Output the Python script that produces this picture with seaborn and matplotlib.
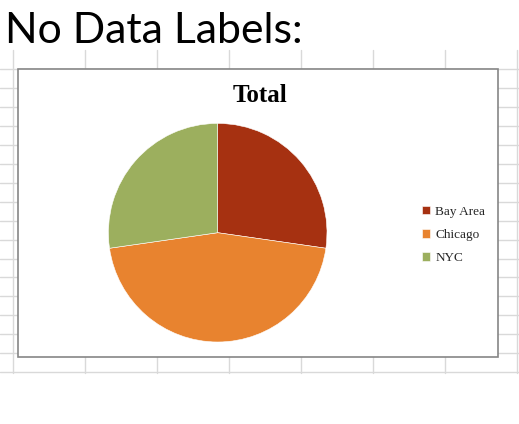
import matplotlib
matplotlib.use("Agg")
import matplotlib.pyplot as plt
from matplotlib.patches import Rectangle
import seaborn as sns

# data
cities = ["Bay Area", "Chicago", "NYC"]
totals = [3, 5, 3]
colors = ["#a63111", "#e8832f", "#9caf5e"]

heading = "No Data Labels:"
chart_title = "Total"

sns.set_theme(style="white")
plt.rcParams["font.family"] = ["Liberation Serif", "DejaVu Serif"]

W, H = 519, 424
fig = plt.figure(figsize=(W / 100, H / 100), dpi=100)
fig.patch.set_facecolor("white")

# spreadsheet grid behind the chart (pixel coords)
bg = fig.add_axes([0, 0, 1, 1])
bg.set_xlim(0, W)
bg.set_ylim(H, 0)
bg.axis("off")
grid_c = "#d9d9d9"
for gx in [12.7 + 72 * i for i in range(8)]:
    bg.plot([gx, gx], [50, 373], color=grid_c, lw=1, zorder=0)
for gy in [69 + 18.95 * i for i in range(17)]:
    bg.plot([0, W], [gy, gy], color=grid_c, lw=1, zorder=0)

# chart box
bg.add_patch(Rectangle((18.3, 69.3), 480, 288, facecolor="white",
                       edgecolor="#868686", lw=1.2, zorder=2))

bg.text(5, 42.7, heading, fontsize=30.8, family=["Lato", "DejaVu Sans"],
        va="baseline", ha="left", color="black", zorder=3)
bg.text(260, 101.5, chart_title, fontsize=18, fontweight="bold",
        va="baseline", ha="center", color="black", zorder=3)

# pie
cx, cy, r = 217.7, 232.7, 109.3
ax = fig.add_axes([(cx - r) / W, 1 - (cy + r) / H, 2 * r / W, 2 * r / H])
wedges, _ = ax.pie(totals, colors=colors, startangle=90, counterclock=False,
                   wedgeprops=dict(edgecolor="white", linewidth=0.4))
ax.set_xlim(-1, 1)
ax.set_ylim(-1, 1)

ax.legend(wedges, cities, loc="center left", frameon=False,
          bbox_to_anchor=(422 / W, 1 - 235 / H), bbox_transform=fig.transFigure,
          fontsize=9.5, handlelength=0.6, handleheight=0.6,
          handletextpad=0.4, labelspacing=0.85, borderpad=0, borderaxespad=0)

fig.savefig("out.png", dpi=100)
